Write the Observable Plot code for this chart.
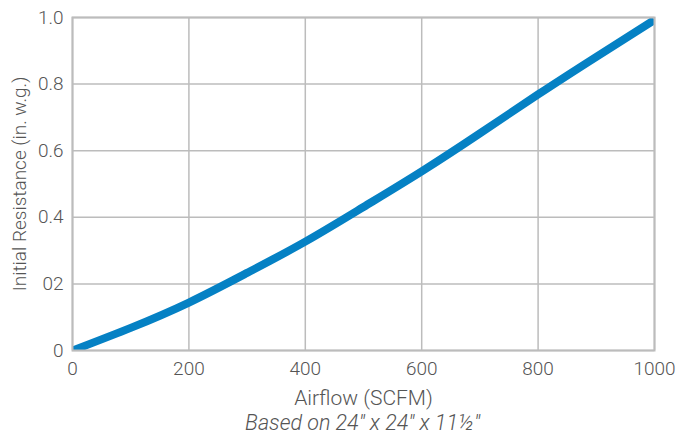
<!DOCTYPE html>
<html>
<head>
<meta charset="utf-8">
<script src="https://cdn.jsdelivr.net/npm/d3@7"></script>
<script src="https://cdn.jsdelivr.net/npm/@observablehq/plot@0.6"></script>
<style>
  body { margin: 0; background: #fff; }
  #chart { width: 681px; height: 410px; }
  .cap { width: 681px; text-align: center; font-family: Roboto, "Liberation Sans", sans-serif; font-weight: 300; font-style: italic; font-size: 21.5px; color: #555; line-height: 26px; padding-left: 44px; box-sizing: border-box; }
</style>
</head>
<body>
<div id="chart"></div>
<div class="cap">Based on 24″ x 24″ x 11½″</div>
<script>
const airflow = [0, 100, 200, 300, 400, 500, 600, 700, 800, 900, 1000];
const resistance = [0, 0.068, 0.144, 0.233, 0.327, 0.431, 0.538, 0.652, 0.769, 0.882, 0.993];
const xTicks = [0, 200, 400, 600, 800, 1000];
const yTicks = [0, 0.2, 0.4, 0.6, 0.8, 1.0];
const yTickLabels = ["0", "02", "0.4", "0.6", "0.8", "1.0"];

const data = airflow.map((a, i) => ({a, r: resistance[i]}));
const grid = "#bcbcbc";

const plot = Plot.plot({
  width: 681,
  height: 410,
  marginLeft: 72,
  marginRight: 27,
  marginTop: 17,
  marginBottom: 60,
  style: {fontFamily: "Roboto, 'Liberation Sans', sans-serif", fontSize: "19px", fontWeight: 300, color: "#555", background: "#fff", overflow: "visible"},
  x: {domain: [0, 1000]},
  y: {domain: [0, 1]},
  marks: [
    Plot.gridX(xTicks, {stroke: grid, strokeOpacity: 1, strokeWidth: 1.5}),
    Plot.gridY(yTicks, {stroke: grid, strokeOpacity: 1, strokeWidth: 1.5}),
    Plot.line(data, {x: "a", y: "r", stroke: "#0581c4", strokeWidth: 8, curve: "natural", strokeLinecap: "butt", clip: true}),
    Plot.frame({stroke: grid, strokeWidth: 2}),
    Plot.axisX({ticks: xTicks, tickSize: 0, tickPadding: 11, tickFormat: d => String(d), label: null, fontSize: 19}),
    Plot.axisX({ticks: [], tickSize: 0, label: "Airflow (SCFM)", labelAnchor: "center", labelArrow: "none", labelOffset: 54, fontSize: 21}),
    Plot.axisY({ticks: yTicks, tickSize: 0, tickPadding: 9, tickFormat: d => yTickLabels[yTicks.indexOf(d)], label: "Initial Resistance (in. w.g.)", labelAnchor: "center", labelArrow: "none", labelOffset: 60, fontSize: 19})
  ]
});
document.getElementById("chart").appendChild(plot);
</script>
</body>
</html>
